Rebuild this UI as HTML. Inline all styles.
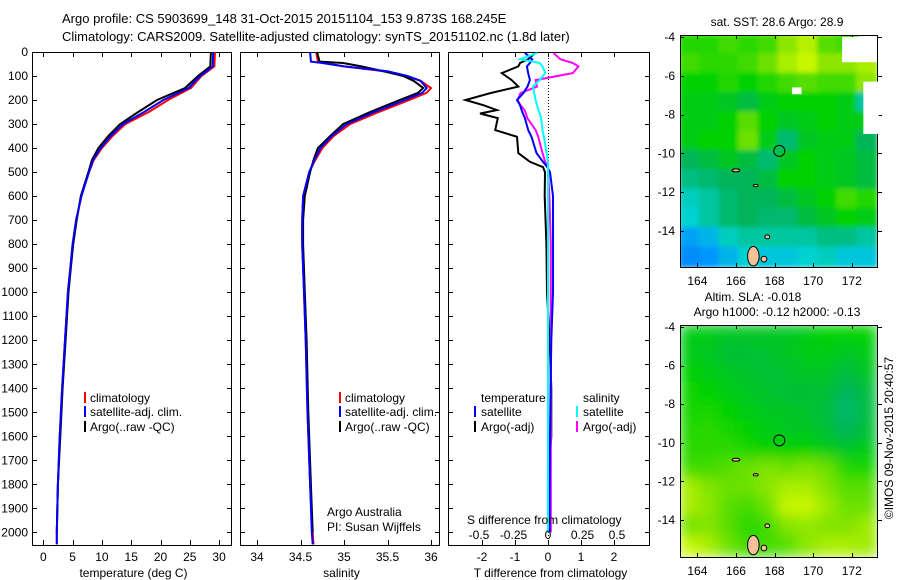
<!DOCTYPE html>
<html><head><meta charset="utf-8"><style>
html,body{margin:0;padding:0;background:#fff;width:900px;height:580px;overflow:hidden}
svg{display:block;font-family:"Liberation Sans",Arial,sans-serif}
text{fill:#000}
</style></head><body>
<svg id="fig" width="900" height="580" viewBox="0 0 900 580" xmlns="http://www.w3.org/2000/svg">
<defs>
<filter id="blur" x="-5%" y="-5%" width="110%" height="110%"><feGaussianBlur stdDeviation="7"/></filter>
<filter id="blur2" x="-5%" y="-5%" width="110%" height="110%"><feGaussianBlur stdDeviation="2.5"/></filter>
<clipPath id="clipTop"><rect x="680" y="35" width="197" height="232"/></clipPath>
<clipPath id="clipBot"><rect x="680" y="325" width="197" height="232"/></clipPath>
</defs>
<text x="62" y="23" font-size="13">Argo profile: CS 5903699_148 31-Oct-2015 20151104_153 9.873S 168.245E</text>
<text x="62" y="41" font-size="13">Climatology: CARS2009. Satellite-adjusted climatology: synTS_20151102.nc (1.8d later)</text>
</svg>
<script>
// ---------- data ----------
const tempDepth = [0,60,100,150,200,250,300,350,400,450,500,600,700,800,900,1000,1200,1400,1600,1800,2000,2050];
const tempArgo  = [28.6,28.5,26.4,24.2,19.4,16.2,13.1,11.1,9.4,8.3,7.7,6.4,5.7,5.1,4.7,4.3,3.8,3.3,2.9,2.5,2.3,2.3];
const tempClim  = [29.3,29.2,27.0,25.2,21.3,18.0,14.0,11.8,10.0,8.6,7.8,6.5,5.6,5.0,4.6,4.2,3.7,3.2,2.8,2.5,2.3,2.3];
const tempSat   = [29.0,28.9,26.8,24.8,20.5,17.2,13.6,11.5,9.8,8.5,7.8,6.5,5.6,5.0,4.6,4.2,3.7,3.2,2.8,2.5,2.3,2.3];

const salDepth = [0,40,46,60,80,100,120,150,170,200,250,300,350,400,450,500,600,700,800,1000,1200,1500,1800,2000,2050];
const salArgo  = [34.69,34.72,34.99,35.2,35.45,35.68,35.8,35.91,35.85,35.64,35.3,34.99,34.84,34.70,34.65,34.61,34.55,34.53,34.53,34.55,34.57,34.59,34.62,34.64,34.64];
const salClim  = [34.68,34.70,34.78,35.0,35.45,35.72,35.88,36.0,35.95,35.75,35.4,35.07,34.88,34.75,34.67,34.60,34.53,34.52,34.52,34.54,34.56,34.58,34.61,34.64,34.65];
const salSat   = [34.61,34.62,34.75,35.0,35.5,35.73,35.88,35.95,35.9,35.7,35.35,35.03,34.86,34.73,34.66,34.60,34.53,34.52,34.52,34.54,34.56,34.58,34.61,34.63,34.64];

const diffDepth = [4,30,46,60,88,117,144,171,200,221,242,256,275,325,353,421,457,479,500,600,800,1000,1200,1400,1600,1800,2000];
const dTArgo = [-0.39,-0.6,-0.85,-0.9,-1.4,-1.1,-0.9,-1.75,-2.5,-1.97,-1.55,-2.06,-1.52,-1.6,-0.94,-0.9,-0.55,-0.15,-0.09,-0.1,-0.05,-0.03,0.05,0.1,0.1,0.0,0.0];
const dTSat  = [-0.7,-0.48,-0.55,-0.64,-0.6,-0.55,-0.62,-0.75,-0.94,-0.85,-0.8,-0.76,-0.7,-0.6,-0.5,-0.35,-0.15,-0.02,0.06,0.15,0.15,0.15,0.1,0.08,0.06,0.05,0.05];
const dSSat  = [-0.08,-0.2,-0.06,-0.04,-0.02,-0.06,-0.11,-0.1,-0.09,-0.08,-0.07,-0.06,-0.05,-0.04,-0.03,-0.01,0,0,0,0,0,0,0,0,0,0,0];
const dSArgo = [0.04,0.09,0.18,0.22,0.18,-0.09,-0.08,-0.2,-0.22,-0.2,-0.17,-0.16,-0.15,-0.09,-0.07,-0.04,-0.02,0,0,0.01,0.02,0.02,0.02,0.02,0.02,0.02,0.02];

const depthTicks = [0,100,200,300,400,500,600,700,800,900,1000,1100,1200,1300,1400,1500,1600,1700,1800,1900,2000];
const tempTicks = [0,5,10,15,20,25,30];
const salTicks = [34,34.5,35,35.5,36];
const salTickLabels = ["34","34.5","35","35.5","36"];
const dTTicks = [-2,-1,0,1,2];
const dSTicks = [-0.5,-0.25,0,0.25,0.5];
const lonTicks = [164,166,168,170,172];
const latTicks = [-4,-6,-8,-10,-12,-14];

const sstGrid = [
 [0.65,0.65,0.68,0.66,0.68,0.75,0.82,0.70,0.68,null],
 [0.68,0.66,0.66,0.68,0.72,0.80,0.85,0.75,0.75,0.80],
 [0.62,0.62,0.65,0.62,0.65,0.68,0.70,0.68,0.68,0.75],
 [0.60,0.60,0.58,0.55,0.60,0.62,0.62,0.62,0.60,0.45],
 [0.60,0.60,0.62,0.70,0.62,0.58,0.60,0.62,0.60,0.60],
 [0.60,0.62,0.62,0.72,0.60,0.50,0.58,0.60,0.60,0.52],
 [0.52,0.55,0.58,0.55,0.50,0.58,0.62,0.60,0.58,0.55],
 [0.48,0.50,0.52,0.52,0.55,0.62,0.62,0.60,0.58,0.55],
 [0.42,0.45,0.50,0.52,0.52,0.55,0.58,0.62,0.68,0.65],
 [0.40,0.45,0.50,0.52,0.50,0.50,0.55,0.58,0.62,0.60],
 [0.32,0.35,0.42,0.45,0.45,0.45,0.45,0.48,0.48,0.45],
 [0.28,0.30,0.35,0.40,0.38,0.38,0.40,0.42,0.38,0.38]];
const slaGrid = [
 [.60,.60,.58,.58,.58,.58,.60,.62,.62,.62],
 [.60,.58,.56,.56,.57,.58,.60,.60,.58,.60],
 [.62,.60,.58,.57,.56,.57,.58,.58,.55,.58],
 [.63,.62,.60,.58,.57,.56,.56,.56,.52,.55],
 [.64,.64,.62,.60,.58,.58,.57,.55,.50,.55],
 [.65,.66,.64,.62,.60,.58,.58,.56,.52,.56],
 [.66,.66,.66,.64,.62,.62,.62,.60,.58,.60],
 [.68,.68,.70,.72,.74,.72,.74,.72,.65,.64],
 [.80,.74,.72,.72,.75,.80,.80,.74,.70,.70],
 [.80,.75,.70,.68,.72,.85,.85,.78,.72,.72],
 [.72,.74,.70,.65,.68,.74,.76,.74,.74,.78],
 [.85,.80,.72,.68,.68,.70,.75,.80,.80,.78]];
const floatLon = [168.245];
const floatLat = [-9.873];

// ---------- helpers ----------
const NS = "http://www.w3.org/2000/svg";
const svg = document.getElementById('fig');
function mk(tag, attrs, parent){
  const e = document.createElementNS(NS, tag);
  for (const k in attrs) e.setAttribute(k, attrs[k]);
  (parent||svg).appendChild(e);
  return e;
}
function txt(x,y,s,anchor,size){
  const t = mk('text',{x:x,y:y,'font-size':size||12,'text-anchor':anchor||'start'});
  t.textContent = s;
  return t;
}
const yTop = 52, yBot = 545;
const yD = d => yTop + d*0.2402;

const panels = [
  {x0:32, x1:231, name:'temperature-panel', sx: v => 43.3 + v*5.86, ticks: tempTicks, labels: tempTicks.map(String), title:'temperature (deg C)'},
  {x0:240, x1:439, name:'salinity-panel', sx: v => 257 + (v-34)*87, ticks: salTicks, labels: salTickLabels, title:'salinity'},
  {x0:448, x1:649, name:'difference-panel', sx: v => 548 + v*33, ticks: dTTicks, labels: dTTicks.map(String), title:'T difference from climatology'}
];
const sxS = v => 548 + v*138;

panels.forEach((p,pi)=>{
  const r = mk('rect',{x:p.x0+0.5,y:yTop+0.5,width:p.x1-p.x0,height:yBot-yTop,fill:'none',stroke:'#000','stroke-width':1});
  
  
  p.ticks.forEach((v,i)=>{
    const x = Math.round(p.sx(v))+0.5;
    const t1 = mk('line',{x1:x,x2:x,y1:yBot,y2:yBot-5,stroke:'#000'});
    
    
    mk('line',{x1:x,x2:x,y1:yTop,y2:yTop+5,stroke:'#000'});
    const l = txt(p.sx(v), 561, p.labels[i], 'middle');
    
    
  });
  depthTicks.forEach(d=>{
    const y = Math.round(yD(d))+0.5;
    mk('line',{x1:p.x0,x2:p.x0+5,y1:y,y2:y,stroke:'#000'});
    mk('line',{x1:p.x1+1,x2:p.x1-4,y1:y,y2:y,stroke:'#000'});
  });
  const at = txt((p.x0+p.x1)/2+2, 577, p.title, 'middle');
  
  
});
depthTicks.forEach(d=>{
  const l = txt(28, yD(d)+4, String(d), 'end');
  
  
});

function line(xs, depths, sx, color, name){
  const pts = xs.map((v,i)=> sx(v).toFixed(1)+','+yD(depths[i]).toFixed(1)).join(' ');
  const pl = mk('polyline',{points:pts,fill:'none',stroke:color,'stroke-width':2,'stroke-linejoin':'miter'});
  
  
}
// temperature
line(tempClim, tempDepth, panels[0].sx, '#ff0000', 'temp-climatology-line');
line(tempArgo.slice(0,21), tempDepth.slice(0,21), panels[0].sx, '#000000', 'temp-argo-line');
line(tempSat, tempDepth, panels[0].sx, '#0000ff', 'temp-satellite-line');
// salinity
line(salClim, salDepth, panels[1].sx, '#ff0000', 'sal-climatology-line');
line(salArgo.slice(0,24), salDepth.slice(0,24), panels[1].sx, '#000000', 'sal-argo-line');
line(salSat, salDepth, panels[1].sx, '#0000ff', 'sal-satellite-line');
// zero line
const z = mk('line',{x1:548.5,x2:548.5,y1:yTop,y2:yBot,stroke:'#000','stroke-dasharray':'1,2'});


// differences
line(dTArgo, diffDepth, panels[2].sx, '#000000', 'dT-argo-line');
line(dSArgo, diffDepth, sxS, '#ff00ff', 'dS-argo-line');
line(dTSat, diffDepth, panels[2].sx, '#0000ff', 'dT-satellite-line');
line(dSSat, diffDepth, sxS, '#00ffff', 'dS-satellite-line');
// S ticks inside
dSTicks.forEach(v=>{
  const l = txt(sxS(v), 539, String(v).replace('0.','0.'), 'middle');
  
  
});
const sdl = txt(467, 524, 'S difference from climatology');



// legends
function legEntry(bx, tx, y, color, label, name){
  const b = mk('rect',{x:bx,y:y-10,width:2,height:11,fill:color});
  
  
  const t = txt(tx, y, label);
  
  
}
legEntry(84,90,402,'#ff0000','climatology','legend-entry-climatology');
legEntry(84,90,416,'#0000ff','satellite-adj. clim.','legend-entry-satellite');
legEntry(84,90,431,'#000000','Argo(..raw -QC)','legend-entry-argo');
legEntry(339,345,402,'#ff0000','climatology','legend-entry-sal-climatology');
legEntry(339,345,416,'#0000ff','satellite-adj. clim.','legend-entry-sal-satellite');
legEntry(339,345,431,'#000000','Argo(..raw -QC)','legend-entry-sal-argo');
const lt = txt(481,402,'temperature');  
const ls = txt(583,402,'salinity');  
legEntry(474,481,416,'#0000ff','satellite','legend-entry-dT-satellite');
legEntry(474,481,431,'#000000','Argo(-adj)','legend-entry-dT-argo');
legEntry(576,583,416,'#00ffff','satellite','legend-entry-dS-satellite');
legEntry(576,583,431,'#ff00ff','Argo(-adj)','legend-entry-dS-argo');
const a1 = txt(327,516,'Argo Australia');  
const a2 = txt(327,531,'PI: Susan Wijffels');  

// ---------- maps ----------
const mx0 = 680, mw = 197, lonMin = 163.1, lonMax = 173.3;
const lonX = lon => mx0 + (lon-lonMin)*19.3;
function cmapSST(v){
  const st = [[0,[0,0,160]],[0.3,[0,150,255]],[0.4,[0,210,210]],[0.52,[0,180,90]],[0.62,[0,210,0]],[0.75,[140,230,0]],[0.9,[230,255,0]],[1,[255,230,0]]];
  for (let i=1;i<st.length;i++){ if (v<=st[i][0]){ const a=st[i-1],b=st[i],f=(v-a[0])/(b[0]-a[0]); return 'rgb('+a[1].map((c,k)=>Math.round(c+(b[1][k]-c)*f)).join(',')+')'; } }
  return 'rgb(255,230,0)';
}
function drawMap(grid, y0, latY, clip, filter, name){
  const g = mk('g',{'clip-path':'url(#'+clip+')'});
  
  
  mk('rect',{x:mx0,y:y0,width:mw,height:232,fill:'#fff'}, g);
  const inner = mk('g',{filter:'url(#'+filter+')'}, g);
  const rows = grid.length, cols = grid[0].length;
  const cw = (lonMax-lonMin)/cols;
  grid.forEach((row,ri)=>{
    row.forEach((v,ci)=>{
      if (v===null) return;
      const lat0 = -3.9 - ri*(11.95/rows);
      const x = lonX(lonMin+ci*cw), y = latY(lat0);
      const c = mk('rect',{x:x-1,y:y-1,width:lonX(lonMin+(ci+1)*cw)-x+2,height:latY(lat0-11.95/rows)-y+2,fill:cmapSST(v)}, inner);
      
      
    });
  });
  // islands (decorative)
  const isl = [[166.6,-14.8,0.6,1.0],[167.3,-15.3,0.3,0.3],[167.5,-14.2,0.25,0.2],[165.8,-10.8,0.4,0.15],[166.9,-11.6,0.25,0.12]];
  isl.forEach(s=>{
    const e = mk('ellipse',{cx:lonX(s[0]+s[2]/2),cy:latY(s[1]-s[3]/2),rx:s[2]*9.6,ry:s[3]*9.7,fill:'#f5c09a',stroke:'#000','stroke-width':1}, g);
    
    
  });
  const fr = mk('rect',{x:mx0+0.5,y:y0+0.5,width:mw,height:232,fill:'none',stroke:'#000'});
  
  
  const m = mk('circle',{cx:lonX(floatLon[0]),cy:latY(floatLat[0]),r:5.5,fill:'none',stroke:'#000','stroke-width':1});
  
  
  lonTicks.forEach(l=>{
    const x = Math.round(lonX(l))+0.5;
    mk('line',{x1:x,x2:x,y1:y0+232,y2:y0+228,stroke:'#000'});
    mk('line',{x1:x,x2:x,y1:y0,y2:y0+4,stroke:'#000'});
    const t = txt(lonX(l), y0+250, String(l), 'middle');
    
    
  });
  latTicks.forEach(l=>{
    const y = Math.round(latY(l))+0.5;
    mk('line',{x1:mx0,x2:mx0+4,y1:y,y2:y,stroke:'#000'});
    mk('line',{x1:mx0+mw+1,x2:mx0+mw+5,y1:y,y2:y,stroke:'#000'});
    const t = txt(675, latY(l)+4, String(l), 'end');
    
    
  });
}
drawMap(sstGrid, 35, lat => 37 + (-4-lat)*19.4, 'clipTop', 'blur2', 'sst-map');
drawMap(slaGrid, 325, lat => 327 + (-4-lat)*19.3, 'clipBot', 'blur', 'sla-map');
// blank (white) patches in SST map
[[171.5,-4,1.8,1.3],[172.6,-6.3,0.8,2.7],[168.9,-6.6,0.5,0.35]].forEach(b=>{
  const r = mk('rect',{x:lonX(b[0]),y:37+(-4-b[1])*19.4,width:b[2]*19.3,height:b[3]*19.4,fill:'#fff'});
  
  
});
const mt1 = txt(777,26,'sat. SST: 28.6 Argo: 28.9','middle');  
const mt2 = txt(753,301,'Altim. SLA: -0.018','middle');  
const mt3 = txt(777,316,'Argo h1000: -0.12 h2000: -0.13','middle');  
const cp = txt(0,0,'©IMOS 09-Nov-2015 20:40:57','middle');
cp.setAttribute('transform','translate(893,438) rotate(-90)');


</script>
</body></html>
